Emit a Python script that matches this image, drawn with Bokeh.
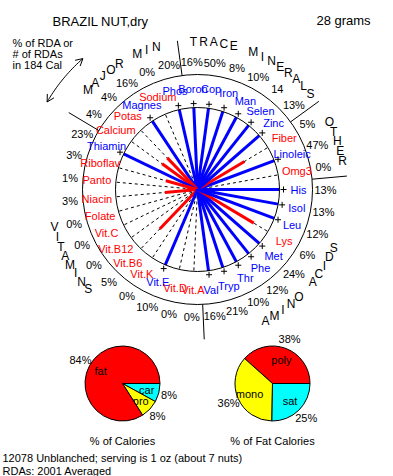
import math
from bokeh.plotting import figure
from bokeh.models import Range1d
from bokeh.embed import file_html
from bokeh.resources import INLINE
from bokeh.core.properties import value

# ---------------- data ----------------
title = "BRAZIL NUT,dry"
serving = "28 grams"
note_lines = ["% of RDA or", "# of RDAs", "in 184 Cal"]
footer_lines = ["12078 Unblanched; serving is 1 oz (about 7 nuts)", "RDAs: 2001 Averaged"]

# nutrients in counter-clockwise order starting at 3 o'clock
nutrients = ["His", "Omg3", "Linoleic", "Fiber", "Zinc", "Selen", "Man", "Iron", "Cop", "Boron",
             "Phos", "Sodium", "Magnes", "Potas", "Calcium",
             "Thiamin", "Riboflav", "Panto", "Niacin", "Folate", "Vit.C", "Vit.B12", "Vit.B6",
             "Vit.K", "Vit.E", "Vit.D", "Vit.A",
             "Val", "Tryp", "Thr", "Phe", "Met", "Lys", "Leu", "Isol"]
pct_rda = [13, 0, 47, 5, 13, 1400, 10, 8, 50, 16,
           20, 0, 16, 4, 4,
           23, 3, 1, 3, 0, 0, 0, 5, 0, 10, 0, 0,
           16, 21, 10, 12, 24, 6, 12, 13]
group_of = (["AMINO"] + ["OTHER"] * 3 + ["TRACE"] * 6 + ["MAJOR"] * 5 +
            ["VIT"] * 12 + ["AMINO"] * 8)
group_titles = {"TRACE": "TRACE MINERALS", "OTHER": "OTHER", "AMINO": "AMINO ACIDS",
                "VIT": "VITAMINS", "MAJOR": "MAJOR MIN"}
threshold = 7.5  # % RDA at which a spoke reaches the circle

cal_names = ["car", "pro", "fat"]
cal_pct = [8, 8, 84]
cal_colors = ["#00FFFF", "#FFFF00", "#FF0000"]
cal_caption = "% of Calories"

fat_names = ["poly", "mono", "sat"]
fat_pct = [38, 36, 25]
fat_colors = ["#FF0000", "#FFFF00", "#00FFFF"]
fat_caption = "% of Fat Calories"

# ---------------- layout ----------------
FONT = value("Liberation Sans")
CX, CY = 197, -189
R_IN, R_OUT = 82, 115
R_LAB, R_PCT, R_GRP = 101, 128, 148
STEP = 360.0 / len(nutrients)
title_layout = {"TRACE": (91.6, -1), "OTHER": (27.0, -1), "AMINO": (297.4, 1),
                "VIT": (194.8, 1), "MAJOR": (137.7, -1)}
BLUE, RED = "#0000FF", "#FF0000"

p = figure(width=393, height=476, x_range=Range1d(0, 393), y_range=Range1d(-476, 0),
           output_backend="svg", toolbar_location=None, min_border=0,
           x_axis_location=None, y_axis_location=None)
p.grid.visible = False
p.outline_line_color = None
p.background_fill_color = "white"
p.border_fill_color = "white"


def pol(r, deg):
    a = math.radians(deg)
    return CX + r * math.cos(a), CY + r * math.sin(a)


def txt(xs, ys, texts, size="11px", color="black", align="center", baseline="middle"):
    p.text(x=xs, y=ys, text=texts, text_font=FONT, text_font_size=value(size),
           text_color=color, text_align=align, text_baseline=baseline)


angles = [i * STEP for i in range(len(nutrients))]
colors = [BLUE if v >= threshold else RED for v in pct_rda]

# dashed guide spokes
ends = [pol(R_IN, a) for a in angles]
p.segment(x0=[CX] * len(ends), y0=[CY] * len(ends), x1=[e[0] for e in ends],
          y1=[e[1] for e in ends], line_color="black", line_width=1, line_dash="3 3")

# value spokes
vx, vy, vc = [], [], []
for a, v, c in zip(angles, pct_rda, colors):
    L = R_IN * min(v / threshold, 1.0)
    x, y = pol(L, a)
    vx.append(x); vy.append(y); vc.append(c)
p.segment(x0=[CX] * len(vx), y0=[CY] * len(vx), x1=vx, y1=vy, line_color=vc, line_width=3)

# circles
p.circle(x=[CX, CX], y=[CY, CY], radius=[R_IN, R_OUT], fill_color=None,
         line_color="black", line_width=1)

# "+" markers for spokes beyond full scale
px_, py_ = [], []
for a, v in zip(angles, pct_rda):
    if v >= threshold:
        x, y = pol(R_IN + 4, a)
        px_.append(x); py_.append(y)
p.scatter(x=px_, y=py_, marker="cross", size=6, line_color="black", line_width=1)

# nutrient labels
lx = [pol(R_LAB, a)[0] for a in angles]
ly = [pol(R_LAB, a)[1] for a in angles]
txt(lx, ly, nutrients, color=colors)

# percentage labels
pct_text = [f"{v}%" if v < 100 else f"{v / 100:g}" for v in pct_rda]
tx = [pol(R_PCT, a)[0] for a in angles]
ty = [pol(R_PCT, a)[1] for a in angles]
txt(tx, ty, pct_text)

# group separators
sx0, sy0, sx1, sy1 = [], [], [], []
n = len(nutrients)
for i in range(n):
    j = (i + 1) % n
    if group_of[i] != group_of[j]:
        a = (i + 0.5) * STEP
        x0, y0 = pol(R_OUT, a)
        x1, y1 = pol(R_OUT + 35, a)
        sx0.append(x0); sy0.append(y0); sx1.append(x1); sy1.append(y1)
p.segment(x0=sx0, y0=sy0, x1=sx1, y1=sy1, line_color="black", line_width=1)

# group titles letter by letter along an arc
gx, gy, gt = [], [], []
for key, name in group_titles.items():
    start, d = title_layout[key]
    for k, ch in enumerate(name):
        if ch == " ":
            continue
        x, y = pol(R_GRP, start + d * k * 3.95)
        gx.append(x); gy.append(y); gt.append(ch)
txt(gx, gy, gt, size="12px")

# curved double arrow
ARC_R, A0, A1 = 174, 131.2, 149.8
pts = [pol(ARC_R, A0 + (A1 - A0) * t / 20.0) for t in range(21)]
p.line(x=[q[0] for q in pts], y=[q[1] for q in pts], line_color="black", line_width=1)
heads_x, heads_y = [], []
for ang, sgn in ((A1, 1), (A0, -1)):
    tip = pol(ARC_R, ang)
    a = math.radians(ang)
    tx_, ty_ = -math.sin(a) * sgn, math.cos(a) * sgn
    for rot in (0.5, -0.5):
        bx = -(tx_ * math.cos(rot) - ty_ * math.sin(rot))
        by = -(tx_ * math.sin(rot) + ty_ * math.cos(rot))
        heads_x.append([tip[0], tip[0] + 8 * bx])
        heads_y.append([tip[1], tip[1] + 8 * by])
p.multi_line(xs=heads_x, ys=heads_y, line_color="black", line_width=1)

# titles and notes
txt([100], [-21], [title], size="13px")
txt([343], [-20], [serving], size="13px")
txt([12] * 3, [-42, -53, -64], note_lines, align="left")
txt([2, 2], [-457, -470], footer_lines, align="left")

# pies
PR = 37.5


def pie(cx, cy, names, pcts, cols, clockwise, caption):
    total = float(sum(pcts))
    acc = 0.0
    sgn = -1 if clockwise else 1
    for name, pc, col in zip(names, pcts, cols):
        span = 360.0 * pc / total
        a0 = sgn * acc
        a1 = sgn * (acc + span)
        p.wedge(x=[cx], y=[cy], radius=PR, start_angle=math.radians(a0),
                end_angle=math.radians(a1), direction="clock" if clockwise else "anticlock",
                fill_color=col, line_color="black", line_width=1)
        mid = math.radians(sgn * (acc + span / 2))
        txt([cx + 25 * math.cos(mid)], [cy + 25 * math.sin(mid)], [name])
        txt([cx + 48 * math.cos(mid)], [cy + 48 * math.sin(mid)], [f"{pc}%"])
        acc += span
    txt([cx], [-440], [caption])


pie(122, -383, cal_names, cal_pct, cal_colors, True, cal_caption)
pie(272, -383, fat_names, fat_pct, fat_colors, False, fat_caption)

open("out.html", "w").write(file_html(p, INLINE))
